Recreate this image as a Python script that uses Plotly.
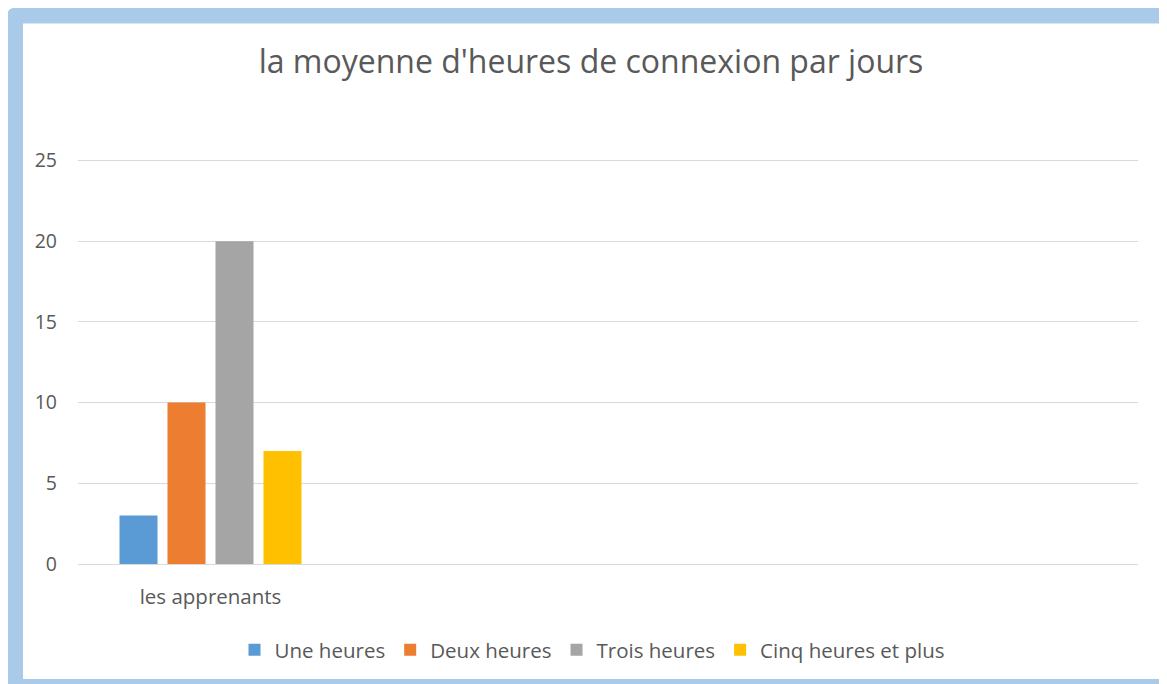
import plotly.graph_objects as go

# ---- data ----
categories = ["les apprenants"]
series_names = ["Une heures", "Deux heures", "Trois heures", "Cinq heures et plus"]
une_heures = [3]
deux_heures = [10]
trois_heures = [20]
cinq_heures_plus = [7]
y_ticks = [0, 5, 10, 15, 20, 25]
title_text = "la moyenne d'heures de connexion par jours"

colors = ["#5B9BD5", "#ED7D31", "#A5A5A5", "#FFC000"]
values = [une_heures, deux_heures, trois_heures, cinq_heures_plus]

# page body has an 8px margin, so the figure is drawn 8px smaller and shifted
OFF = 8
YMAX = 25.15          # small headroom so the 25 gridline is drawn
W, H = 1167 - OFF, 684 - OFF
B = 120
PH = 404 * YMAX / 25
L, R = 78 - OFF, 29
T = H - B - PH
PW = W - L - R


def px(x):
    return (x - OFF - L) / PW


def py(y):
    return (H - B - (y - OFF)) / PH


fig = go.Figure()
xpos = list(range(len(categories)))
for name, vals, col in zip(series_names, values, colors):
    fig.add_trace(go.Bar(x=xpos, y=vals, name=name, marker=dict(color=col, line=dict(width=0))))

font_fam = "Open Sans, Noto Sans, sans-serif"
grey = "#595959"

# border: rounded outer blue, inner white
r = 9
ox0, oy0, ox1, oy1 = 7, 7, 1180, 700
path = (f"M {px(ox0)},{py(oy1)} L {px(ox0)},{py(oy0 + r)} Q {px(ox0)},{py(oy0)} {px(ox0 + r)},{py(oy0)} "
        f"L {px(ox1)},{py(oy0)} L {px(ox1)},{py(oy1)} Z")
shapes = [
    dict(type="path", path=path, xref="paper", yref="paper", fillcolor="#A9CBE9",
         line=dict(width=0), layer="below"),
    dict(type="rect", xref="paper", yref="paper", x0=px(23), x1=px(1159), y0=py(679), y1=py(23),
         fillcolor="white", line=dict(width=0), layer="below"),
]

fig.update_layout(
    width=W, height=H,
    margin=dict(l=L, r=R, t=T, b=B, pad=0),
    paper_bgcolor="white",
    plot_bgcolor="white",
    barmode="group",
    bargap=0.2755,
    bargroupgap=0.208,
    shapes=shapes,
    font=dict(family=font_fam, color=grey, size=19),
    title=dict(text=title_text, x=(591 - OFF) / W, xanchor="center", xref="container",
               y=1 - (62 - OFF) / H, yanchor="middle", yref="container",
               font=dict(size=32, color=grey, family=font_fam)),
    legend=dict(orientation="h", x=px(592), xanchor="center", y=py(650), yanchor="middle",
                font=dict(size=20.5, color=grey), bgcolor="rgba(0,0,0,0)", itemclick=False),
    showlegend=True,
)
fig.update_xaxes(range=[-0.5, 3.5], tickvals=xpos, ticktext=categories, showgrid=False,
                 zeroline=False, showline=False, ticks="", ticklabelstandoff=18,
                 tickfont=dict(size=20.5, color=grey))
fig.update_yaxes(range=[0, YMAX], tickvals=y_ticks, showgrid=True, gridcolor="#D9D9D9", gridwidth=1,
                 zeroline=True, zerolinecolor="#D9D9D9", zerolinewidth=1, showline=False, ticks="",
                 ticklabelstandoff=20, tickfont=dict(size=19.5, color=grey))

fig.write_html("out.html")
